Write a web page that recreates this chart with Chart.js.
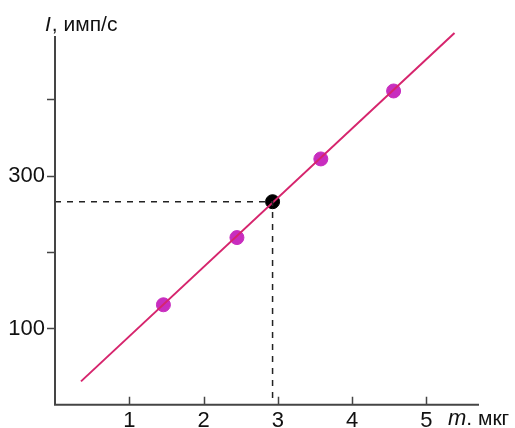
<!DOCTYPE html>
<html>
<head>
<meta charset="utf-8">
<script src="https://cdn.jsdelivr.net/npm/chart.js@4.4.1/dist/chart.umd.min.js"></script>
<style>
  html, body { margin: 0; padding: 0; background: #fff; }
  #wrap { width: 515px; height: 428px; position: relative; }
</style>
</head>
<body>
<div id="wrap"><canvas id="graph"></canvas></div>
<script>
// calibration line I(m), measured points and the unknown sample
var lineM = [0.35, 5.38];
var lineI = [30.7, 487];
var measM = [1.46, 2.45, 3.58, 4.56];
var measI = [131, 219, 322, 411];
var sampleM = 2.93;
var sampleI = 266;
var yTicks = [100, 200, 300, 400];
var yLabels = ['100', '300'];
var xTicks = [1, 2, 3, 4, 5];

var FONT = "'Liberation Sans', Arial, sans-serif";
var AXIS = '#454545';

var axesPlugin = {
	id: 'axes',
	afterDraw: function(chart){
		var ctx = chart.ctx;
		var a = chart.chartArea;
		var xs = chart.scales.x, ys = chart.scales.y;
		ctx.save();
		ctx.strokeStyle = AXIS;
		ctx.lineWidth = 2;
		ctx.beginPath();
		ctx.moveTo(a.left, a.top);
		ctx.lineTo(a.left, a.bottom);
		ctx.lineTo(a.right, a.bottom);
		ctx.stroke();
		ctx.lineWidth = 1.5;
		ctx.beginPath();
		for(var i in yTicks){
			var py = Math.round(ys.getPixelForValue(yTicks[i])) + 0.5;
			ctx.moveTo(a.left - 8, py);
			ctx.lineTo(a.left, py);
		}
		for(var j in xTicks){
			var px = Math.round(xs.getPixelForValue(xTicks[j])) + 0.5;
			ctx.moveTo(px, a.bottom);
			ctx.lineTo(px, a.bottom - 8);
		}
		ctx.stroke();

		// axis titles
		ctx.fillStyle = '#111';
		ctx.textBaseline = 'alphabetic';
		ctx.font = 'italic 21px ' + FONT;
		ctx.fillText('I', 45, 31);
		var w = ctx.measureText('I').width;
		ctx.font = '21px ' + FONT;
		ctx.fillText(', имп/с', 45 + w + 1, 31);

		ctx.font = 'italic 22px ' + FONT;
		ctx.fillText('m', 448, 425);
		w = ctx.measureText('m').width;
		ctx.font = '21px ' + FONT;
		ctx.fillText('. мкг', 448 + w, 425);
		ctx.restore();
	}
};

var lineData = [];
for(var i in lineM){ lineData.push({x: lineM[i], y: lineI[i]}); }
var measData = [];
for(var i in measM){ measData.push({x: measM[i], y: measI[i]}); }

var chartdata = {
	datasets: [
		{
			label: 'guide',
			data: [{x: 0, y: sampleI}, {x: sampleM, y: sampleI}, {x: sampleM, y: 0}],
			borderColor: '#222',
			borderWidth: 1.5,
			borderDash: [6, 6],
			pointRadius: 0,
			showLine: true,
			clip: false
		},
		{
			label: 'calibration',
			data: lineData,
			borderColor: '#d6256d',
			borderWidth: 2,
			pointRadius: 0,
			showLine: true,
			clip: false
		},
		{
			label: 'measured',
			data: measData,
			backgroundColor: '#c82dbf',
			borderColor: '#c82dbf',
			pointRadius: 7,
			showLine: false
		},
		{
			label: 'sample',
			data: [{x: sampleM, y: sampleI}],
			backgroundColor: '#000',
			borderColor: '#000',
			pointRadius: 7,
			showLine: false
		}
	]
};

var graph = new Chart(document.getElementById('graph'), {
	type: 'scatter',
	data: chartdata,
	plugins: [axesPlugin],
	options: {
		responsive: true,
		maintainAspectRatio: false,
		animation: false,
		layout: { padding: { top: 36, right: 36, left: 0, bottom: 0 } },
		plugins: { legend: { display: false }, tooltip: { enabled: false } },
		scales: {
			x: {
				type: 'linear',
				min: 0,
				max: 5.71,
				afterFit: function(s){ s.height = 23; },
				afterBuildTicks: function(s){ s.ticks = xTicks.map(function(v){ return {value: v}; }); },
				grid: { display: false, drawTicks: false },
				border: { display: false },
				ticks: {
					color: '#111',
					font: { family: FONT, size: 22 },
					padding: 3,
					maxRotation: 0,
					callback: function(v){ return String(v); }
				}
			},
			y: {
				type: 'linear',
				min: 0,
				max: 483,
				afterFit: function(s){ s.width = 55; },
				afterBuildTicks: function(s){ s.ticks = yTicks.map(function(v){ return {value: v}; }); },
				grid: { display: false, drawTicks: false },
				border: { display: false },
				ticks: {
					color: '#111',
					font: { family: FONT, size: 22 },
					padding: 10,
					callback: function(v){ return yLabels.indexOf(String(v)) >= 0 ? String(v) : ''; }
				}
			}
		}
	}
});
</script>
</body>
</html>
